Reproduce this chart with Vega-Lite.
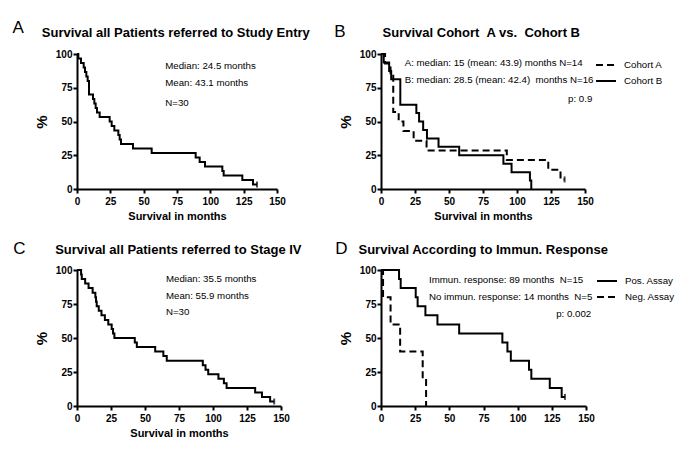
{
"$schema": "https://vega.github.io/schema/vega-lite/v6.json",
"background": "white",
"padding": {"left": 12, "top": 19, "right": 5, "bottom": 5},
"data": {"values": [
{"p":"A","g":"all","t":0,"s":100},{"p":"A","g":"all","t":1,"s":96.7},{"p":"A","g":"all","t":3,"s":93.3},{"p":"A","g":"all","t":5,"s":90},{"p":"A","g":"all","t":6,"s":86.7},{"p":"A","g":"all","t":7,"s":83.3},{"p":"A","g":"all","t":8,"s":80},{"p":"A","g":"all","t":9,"s":70},{"p":"A","g":"all","t":12,"s":66.7},{"p":"A","g":"all","t":13,"s":63.3},{"p":"A","g":"all","t":14,"s":60},{"p":"A","g":"all","t":15,"s":56.7},{"p":"A","g":"all","t":17,"s":53.3},{"p":"A","g":"all","t":24.5,"s":50},{"p":"A","g":"all","t":26,"s":46.7},{"p":"A","g":"all","t":28,"s":43.3},{"p":"A","g":"all","t":31,"s":40},{"p":"A","g":"all","t":32,"s":36.7},{"p":"A","g":"all","t":33,"s":33.3},{"p":"A","g":"all","t":42,"s":30},{"p":"A","g":"all","t":56,"s":26.7},{"p":"A","g":"all","t":89,"s":23.3},{"p":"A","g":"all","t":92,"s":20},{"p":"A","g":"all","t":96,"s":16.7},{"p":"A","g":"all","t":109,"s":13.3},{"p":"A","g":"all","t":110,"s":10},{"p":"A","g":"all","t":124,"s":6.7},{"p":"A","g":"all","t":132,"s":3.3},{"p":"A","g":"all","t":135,"s":3.3,"c":1},
{"p":"B","g":"Cohort A","t":0,"s":100},{"p":"B","g":"Cohort A","t":3,"s":92.9},{"p":"B","g":"Cohort A","t":7,"s":85.7},{"p":"B","g":"Cohort A","t":9,"s":57.1},{"p":"B","g":"Cohort A","t":13,"s":50},{"p":"B","g":"Cohort A","t":16.5,"s":42.9},{"p":"B","g":"Cohort A","t":24,"s":35.7},{"p":"B","g":"Cohort A","t":33.5,"s":28.6},{"p":"B","g":"Cohort A","t":92.5,"s":21.4},{"p":"B","g":"Cohort A","t":123,"s":14.3},{"p":"B","g":"Cohort A","t":132,"s":7.1},{"p":"B","g":"Cohort A","t":135,"s":7.1,"c":1},
{"p":"B","g":"Cohort B","t":0,"s":100},{"p":"B","g":"Cohort B","t":2,"s":93.75},{"p":"B","g":"Cohort B","t":6,"s":87.5},{"p":"B","g":"Cohort B","t":7.5,"s":81.25},{"p":"B","g":"Cohort B","t":14.2,"s":62.5},{"p":"B","g":"Cohort B","t":26,"s":56.25},{"p":"B","g":"Cohort B","t":28,"s":50},{"p":"B","g":"Cohort B","t":31,"s":43.75},{"p":"B","g":"Cohort B","t":33.8,"s":37.5},{"p":"B","g":"Cohort B","t":42.3,"s":31.25},{"p":"B","g":"Cohort B","t":57.5,"s":25},{"p":"B","g":"Cohort B","t":90,"s":18.75},{"p":"B","g":"Cohort B","t":96,"s":12.5},{"p":"B","g":"Cohort B","t":109.5,"s":6.25},{"p":"B","g":"Cohort B","t":110.5,"s":0},
{"p":"C","g":"all","t":0,"s":100},{"p":"C","g":"all","t":3,"s":96.7},{"p":"C","g":"all","t":3.5,"s":93.3},{"p":"C","g":"all","t":6,"s":90},{"p":"C","g":"all","t":8.5,"s":86.7},{"p":"C","g":"all","t":11.5,"s":83.3},{"p":"C","g":"all","t":13.5,"s":80},{"p":"C","g":"all","t":14,"s":76.7},{"p":"C","g":"all","t":14.5,"s":73.3},{"p":"C","g":"all","t":16,"s":70},{"p":"C","g":"all","t":18,"s":66.7},{"p":"C","g":"all","t":20.5,"s":63.3},{"p":"C","g":"all","t":23,"s":60},{"p":"C","g":"all","t":25.5,"s":56.7},{"p":"C","g":"all","t":26.5,"s":53.3},{"p":"C","g":"all","t":27.5,"s":50},{"p":"C","g":"all","t":42.5,"s":46.7},{"p":"C","g":"all","t":44,"s":43.3},{"p":"C","g":"all","t":57.5,"s":40},{"p":"C","g":"all","t":63.5,"s":36.7},{"p":"C","g":"all","t":66,"s":33.3},{"p":"C","g":"all","t":92.5,"s":30},{"p":"C","g":"all","t":94.5,"s":26.7},{"p":"C","g":"all","t":96.5,"s":23.3},{"p":"C","g":"all","t":104,"s":20},{"p":"C","g":"all","t":108,"s":16.7},{"p":"C","g":"all","t":110,"s":13.3},{"p":"C","g":"all","t":131,"s":10},{"p":"C","g":"all","t":136,"s":6.7},{"p":"C","g":"all","t":142,"s":3.3},{"p":"C","g":"all","t":145,"s":3.3,"c":1},
{"p":"D","g":"Pos. Assay","t":0,"s":100},{"p":"D","g":"Pos. Assay","t":13.2,"s":93.3},{"p":"D","g":"Pos. Assay","t":14.4,"s":86.7},{"p":"D","g":"Pos. Assay","t":25.4,"s":80},{"p":"D","g":"Pos. Assay","t":26.8,"s":73.3},{"p":"D","g":"Pos. Assay","t":32.5,"s":66.7},{"p":"D","g":"Pos. Assay","t":41.3,"s":60},{"p":"D","g":"Pos. Assay","t":57.2,"s":53.3},{"p":"D","g":"Pos. Assay","t":88.8,"s":46.7},{"p":"D","g":"Pos. Assay","t":92.5,"s":40},{"p":"D","g":"Pos. Assay","t":95,"s":33.3},{"p":"D","g":"Pos. Assay","t":108.3,"s":26.7},{"p":"D","g":"Pos. Assay","t":110,"s":20},{"p":"D","g":"Pos. Assay","t":123.5,"s":13.3},{"p":"D","g":"Pos. Assay","t":132.2,"s":6.7},{"p":"D","g":"Pos. Assay","t":134.6,"s":6.7,"c":1},
{"p":"D","g":"Neg. Assay","t":0,"s":100},{"p":"D","g":"Neg. Assay","t":1.5,"s":80},{"p":"D","g":"Neg. Assay","t":7,"s":60},{"p":"D","g":"Neg. Assay","t":14,"s":40},{"p":"D","g":"Neg. Assay","t":30.5,"s":20},{"p":"D","g":"Neg. Assay","t":33,"s":0}
]},
"columns": 2,
"bounds": "flush",
"spacing": {"row": 81, "column": 100},
"resolve": {"scale": {"x": "independent", "y": "independent", "strokeDash": "independent"}, "legend": {"strokeDash": "independent"}},
"concat": [
{"width": 200, "height": 135, "layer": [
 {"transform": [{"filter": "datum.p=='A'"}], "mark": {"type": "line", "interpolate": "step-after", "color": "black", "strokeWidth": 2},
  "encoding": {"x": {"field": "t", "type": "quantitative", "scale": {"domain": [0,150], "nice": false}, "axis": {"values": [0,25,50,75,100,125,150], "title": "Survival in months"}},
   "y": {"field": "s", "type": "quantitative", "scale": {"domain": [0,100], "nice": false}, "axis": {"values": [0,25,50,75,100], "title": "%"}}}},
 {"transform": [{"filter": "datum.p=='A' && datum.c==1"}], "mark": {"type": "tick", "orient": "vertical", "color": "black", "size": 6, "thickness": 2},
  "encoding": {"x": {"field": "t", "type": "quantitative", "scale": {"domain": [0,150], "nice": false}, "axis": {"values": [0,25,50,75,100,125,150], "title": "Survival in months"}}, "y": {"field": "s", "type": "quantitative", "scale": {"domain": [0,100], "nice": false}, "axis": {"values": [0,25,50,75,100], "title": "%"}}}},
 {"data": {"values": [{}]}, "mark": {"type": "text", "text": "A", "fontSize": 17, "align": "left", "baseline": "alphabetic"},
  "encoding": {"x": {"datum": -48.3, "type": "quantitative", "scale": {"domain": [0,150], "nice": false}, "axis": {"values": [0,25,50,75,100,125,150], "title": "Survival in months"}}, "y": {"datum": 115.3, "type": "quantitative", "scale": {"domain": [0,100], "nice": false}, "axis": {"values": [0,25,50,75,100], "title": "%"}}}},
 {"data": {"values": [{}]}, "mark": {"type": "text", "text": "Survival all Patients referred to Study Entry", "fontSize": 13, "fontWeight": "bold", "align": "center", "baseline": "alphabetic"},
  "encoding": {"x": {"datum": 74.1, "type": "quantitative", "scale": {"domain": [0,150], "nice": false}, "axis": {"values": [0,25,50,75,100,125,150], "title": "Survival in months"}}, "y": {"datum": 112.8, "type": "quantitative", "scale": {"domain": [0,100], "nice": false}, "axis": {"values": [0,25,50,75,100], "title": "%"}}}},
 {"data": {"values": [{}]}, "mark": {"type": "text", "text": "Median: 24.5 months", "fontSize": 9.7, "align": "left", "baseline": "middle"},
  "encoding": {"x": {"datum": 66.2, "type": "quantitative", "scale": {"domain": [0,150], "nice": false}, "axis": {"values": [0,25,50,75,100,125,150], "title": "Survival in months"}}, "y": {"datum": 91.3, "type": "quantitative", "scale": {"domain": [0,100], "nice": false}, "axis": {"values": [0,25,50,75,100], "title": "%"}}}},
 {"data": {"values": [{}]}, "mark": {"type": "text", "text": "Mean: 43.1 months", "fontSize": 9.7, "align": "left", "baseline": "middle"},
  "encoding": {"x": {"datum": 66.2, "type": "quantitative", "scale": {"domain": [0,150], "nice": false}, "axis": {"values": [0,25,50,75,100,125,150], "title": "Survival in months"}}, "y": {"datum": 78.7, "type": "quantitative", "scale": {"domain": [0,100], "nice": false}, "axis": {"values": [0,25,50,75,100], "title": "%"}}}},
 {"data": {"values": [{}]}, "mark": {"type": "text", "text": "N=30", "fontSize": 9.7, "align": "left", "baseline": "middle"},
  "encoding": {"x": {"datum": 66.2, "type": "quantitative", "scale": {"domain": [0,150], "nice": false}, "axis": {"values": [0,25,50,75,100,125,150], "title": "Survival in months"}}, "y": {"datum": 63.5, "type": "quantitative", "scale": {"domain": [0,100], "nice": false}, "axis": {"values": [0,25,50,75,100], "title": "%"}}}}
]},
{"width": 204, "height": 135, "layer": [
 {"transform": [{"filter": "datum.p=='B'"}], "mark": {"type": "line", "interpolate": "step-after", "color": "black", "strokeWidth": 2},
  "encoding": {"x": {"field": "t", "type": "quantitative", "scale": {"domain": [0,150], "nice": false}, "axis": {"values": [0,25,50,75,100,125,150], "title": "Survival in months"}},
   "y": {"field": "s", "type": "quantitative", "scale": {"domain": [0,100], "nice": false}, "axis": {"values": [0,25,50,75,100], "title": "%"}},
   "strokeDash": {"field": "g", "type": "nominal", "scale": {"domain": ["Cohort A","Cohort B"], "range": [[7,4],[1,0]]}, "legend": {"title": null}}}},
 {"transform": [{"filter": "datum.p=='B' && datum.c==1"}], "mark": {"type": "tick", "orient": "vertical", "color": "black", "size": 6, "thickness": 2},
  "encoding": {"x": {"field": "t", "type": "quantitative", "scale": {"domain": [0,150], "nice": false}, "axis": {"values": [0,25,50,75,100,125,150], "title": "Survival in months"}}, "y": {"field": "s", "type": "quantitative", "scale": {"domain": [0,100], "nice": false}, "axis": {"values": [0,25,50,75,100], "title": "%"}}}},
 {"data": {"values": [{}]}, "mark": {"type": "text", "text": "B", "fontSize": 17, "align": "left", "baseline": "alphabetic"},
  "encoding": {"x": {"datum": -34.3, "type": "quantitative", "scale": {"domain": [0,150], "nice": false}, "axis": {"values": [0,25,50,75,100,125,150], "title": "Survival in months"}}, "y": {"datum": 112.6, "type": "quantitative", "scale": {"domain": [0,100], "nice": false}, "axis": {"values": [0,25,50,75,100], "title": "%"}}}},
 {"data": {"values": [{}]}, "mark": {"type": "text", "text": "Survival Cohort \u00a0A vs. \u00a0Cohort B", "fontSize": 13, "fontWeight": "bold", "align": "center", "baseline": "alphabetic"},
  "encoding": {"x": {"datum": 73.75, "type": "quantitative", "scale": {"domain": [0,150], "nice": false}, "axis": {"values": [0,25,50,75,100,125,150], "title": "Survival in months"}}, "y": {"datum": 112.4, "type": "quantitative", "scale": {"domain": [0,100], "nice": false}, "axis": {"values": [0,25,50,75,100], "title": "%"}}}},
 {"data": {"values": [{}]}, "mark": {"type": "text", "text": "A: median: 15 (mean: 43.9) months N=14", "fontSize": 9.7, "align": "left", "baseline": "middle"},
  "encoding": {"x": {"datum": 17.4, "type": "quantitative", "scale": {"domain": [0,150], "nice": false}, "axis": {"values": [0,25,50,75,100,125,150], "title": "Survival in months"}}, "y": {"datum": 93.1, "type": "quantitative", "scale": {"domain": [0,100], "nice": false}, "axis": {"values": [0,25,50,75,100], "title": "%"}}}},
 {"data": {"values": [{}]}, "mark": {"type": "text", "text": "B: median: 28.5 (mean: 42.4) \u00a0months N=16", "fontSize": 9.7, "align": "left", "baseline": "middle"},
  "encoding": {"x": {"datum": 17.4, "type": "quantitative", "scale": {"domain": [0,150], "nice": false}, "axis": {"values": [0,25,50,75,100,125,150], "title": "Survival in months"}}, "y": {"datum": 80.7, "type": "quantitative", "scale": {"domain": [0,100], "nice": false}, "axis": {"values": [0,25,50,75,100], "title": "%"}}}},
 {"data": {"values": [{}]}, "mark": {"type": "text", "text": "p: 0.9", "fontSize": 9.7, "align": "right", "baseline": "middle"},
  "encoding": {"x": {"datum": 155.4, "type": "quantitative", "scale": {"domain": [0,150], "nice": false}, "axis": {"values": [0,25,50,75,100,125,150], "title": "Survival in months"}}, "y": {"datum": 66.7, "type": "quantitative", "scale": {"domain": [0,100], "nice": false}, "axis": {"values": [0,25,50,75,100], "title": "%"}}}}
]},
{"width": 204, "height": 136, "layer": [
 {"transform": [{"filter": "datum.p=='C'"}], "mark": {"type": "line", "interpolate": "step-after", "color": "black", "strokeWidth": 2},
  "encoding": {"x": {"field": "t", "type": "quantitative", "scale": {"domain": [0,150], "nice": false}, "axis": {"values": [0,25,50,75,100,125,150], "title": "Survival in months"}},
   "y": {"field": "s", "type": "quantitative", "scale": {"domain": [0,100], "nice": false}, "axis": {"values": [0,25,50,75,100], "title": "%"}}}},
 {"transform": [{"filter": "datum.p=='C' && datum.c==1"}], "mark": {"type": "tick", "orient": "vertical", "color": "black", "size": 6, "thickness": 2},
  "encoding": {"x": {"field": "t", "type": "quantitative", "scale": {"domain": [0,150], "nice": false}, "axis": {"values": [0,25,50,75,100,125,150], "title": "Survival in months"}}, "y": {"field": "s", "type": "quantitative", "scale": {"domain": [0,100], "nice": false}, "axis": {"values": [0,25,50,75,100], "title": "%"}}}},
 {"data": {"values": [{}]}, "mark": {"type": "text", "text": "C", "fontSize": 17, "align": "left", "baseline": "alphabetic"},
  "encoding": {"x": {"datum": -46.8, "type": "quantitative", "scale": {"domain": [0,150], "nice": false}, "axis": {"values": [0,25,50,75,100,125,150], "title": "Survival in months"}}, "y": {"datum": 112, "type": "quantitative", "scale": {"domain": [0,100], "nice": false}, "axis": {"values": [0,25,50,75,100], "title": "%"}}}},
 {"data": {"values": [{}]}, "mark": {"type": "text", "text": "Survival all Patients referred to Stage IV", "fontSize": 13, "fontWeight": "bold", "align": "center", "baseline": "alphabetic"},
  "encoding": {"x": {"datum": 74.5, "type": "quantitative", "scale": {"domain": [0,150], "nice": false}, "axis": {"values": [0,25,50,75,100,125,150], "title": "Survival in months"}}, "y": {"datum": 111.5, "type": "quantitative", "scale": {"domain": [0,100], "nice": false}, "axis": {"values": [0,25,50,75,100], "title": "%"}}}},
 {"data": {"values": [{}]}, "mark": {"type": "text", "text": "Median: 35.5 months", "fontSize": 9.7, "align": "left", "baseline": "middle"},
  "encoding": {"x": {"datum": 65.4, "type": "quantitative", "scale": {"domain": [0,150], "nice": false}, "axis": {"values": [0,25,50,75,100,125,150], "title": "Survival in months"}}, "y": {"datum": 93.2, "type": "quantitative", "scale": {"domain": [0,100], "nice": false}, "axis": {"values": [0,25,50,75,100], "title": "%"}}}},
 {"data": {"values": [{}]}, "mark": {"type": "text", "text": "Mean: 55.9 months", "fontSize": 9.7, "align": "left", "baseline": "middle"},
  "encoding": {"x": {"datum": 65.4, "type": "quantitative", "scale": {"domain": [0,150], "nice": false}, "axis": {"values": [0,25,50,75,100,125,150], "title": "Survival in months"}}, "y": {"datum": 80.9, "type": "quantitative", "scale": {"domain": [0,100], "nice": false}, "axis": {"values": [0,25,50,75,100], "title": "%"}}}},
 {"data": {"values": [{}]}, "mark": {"type": "text", "text": "N=30", "fontSize": 9.7, "align": "left", "baseline": "middle"},
  "encoding": {"x": {"datum": 65.4, "type": "quantitative", "scale": {"domain": [0,150], "nice": false}, "axis": {"values": [0,25,50,75,100,125,150], "title": "Survival in months"}}, "y": {"datum": 69.1, "type": "quantitative", "scale": {"domain": [0,100], "nice": false}, "axis": {"values": [0,25,50,75,100], "title": "%"}}}}
]},
{"width": 205, "height": 136, "layer": [
 {"transform": [{"filter": "datum.p=='D'"}], "mark": {"type": "line", "interpolate": "step-after", "color": "black", "strokeWidth": 2},
  "encoding": {"x": {"field": "t", "type": "quantitative", "scale": {"domain": [0,150], "nice": false}, "axis": {"values": [0,25,50,75,100,125,150], "title": null}},
   "y": {"field": "s", "type": "quantitative", "scale": {"domain": [0,100], "nice": false}, "axis": {"values": [0,25,50,75,100], "title": "%"}},
   "strokeDash": {"field": "g", "type": "nominal", "scale": {"domain": ["Pos. Assay","Neg. Assay"], "range": [[1,0],[7,4]]}, "legend": {"title": null}}}},
 {"transform": [{"filter": "datum.p=='D' && datum.c==1"}], "mark": {"type": "tick", "orient": "vertical", "color": "black", "size": 6, "thickness": 2},
  "encoding": {"x": {"field": "t", "type": "quantitative", "scale": {"domain": [0,150], "nice": false}, "axis": {"values": [0,25,50,75,100,125,150], "title": null}}, "y": {"field": "s", "type": "quantitative", "scale": {"domain": [0,100], "nice": false}, "axis": {"values": [0,25,50,75,100], "title": "%"}}}},
 {"data": {"values": [{}]}, "mark": {"type": "text", "text": "D", "fontSize": 17, "align": "left", "baseline": "alphabetic"},
  "encoding": {"x": {"datum": -33.4, "type": "quantitative", "scale": {"domain": [0,150], "nice": false}, "axis": {"values": [0,25,50,75,100,125,150], "title": null}}, "y": {"datum": 112, "type": "quantitative", "scale": {"domain": [0,100], "nice": false}, "axis": {"values": [0,25,50,75,100], "title": "%"}}}},
 {"data": {"values": [{}]}, "mark": {"type": "text", "text": "Survival According to Immun. Response", "fontSize": 13, "fontWeight": "bold", "align": "center", "baseline": "alphabetic"},
  "encoding": {"x": {"datum": 74.8, "type": "quantitative", "scale": {"domain": [0,150], "nice": false}, "axis": {"values": [0,25,50,75,100,125,150], "title": null}}, "y": {"datum": 111.5, "type": "quantitative", "scale": {"domain": [0,100], "nice": false}, "axis": {"values": [0,25,50,75,100], "title": "%"}}}},
 {"data": {"values": [{}]}, "mark": {"type": "text", "text": "Immun. response: 89 months \u00a0N=15", "fontSize": 9.7, "align": "left", "baseline": "middle"},
  "encoding": {"x": {"datum": 35.1, "type": "quantitative", "scale": {"domain": [0,150], "nice": false}, "axis": {"values": [0,25,50,75,100,125,150], "title": null}}, "y": {"datum": 92.9, "type": "quantitative", "scale": {"domain": [0,100], "nice": false}, "axis": {"values": [0,25,50,75,100], "title": "%"}}}},
 {"data": {"values": [{}]}, "mark": {"type": "text", "text": "No immun. response: 14 months \u00a0N=5", "fontSize": 9.7, "align": "left", "baseline": "middle"},
  "encoding": {"x": {"datum": 35.1, "type": "quantitative", "scale": {"domain": [0,150], "nice": false}, "axis": {"values": [0,25,50,75,100,125,150], "title": null}}, "y": {"datum": 80.1, "type": "quantitative", "scale": {"domain": [0,100], "nice": false}, "axis": {"values": [0,25,50,75,100], "title": "%"}}}},
 {"data": {"values": [{}]}, "mark": {"type": "text", "text": "p: 0.002", "fontSize": 9.7, "align": "right", "baseline": "middle"},
  "encoding": {"x": {"datum": 153.8, "type": "quantitative", "scale": {"domain": [0,150], "nice": false}, "axis": {"values": [0,25,50,75,100,125,150], "title": null}}, "y": {"datum": 67.9, "type": "quantitative", "scale": {"domain": [0,100], "nice": false}, "axis": {"values": [0,25,50,75,100], "title": "%"}}}}
]}
],
"config": {
 "view": {"stroke": null},
 "font": "Liberation Sans",
 "text": {"color": "black", "font": "Liberation Sans"},
 "axis": {"domainColor": "black", "domainWidth": 2, "tickColor": "black", "tickWidth": 2, "tickSize": 4, "labelFont": "Liberation Sans", "labelFontWeight": "bold", "labelFontSize": 10, "labelColor": "black", "titleFont": "Liberation Sans", "titleFontWeight": "bold", "titleColor": "black", "grid": false, "labelFlush": false, "labelOverlap": false},
 "axisX": {"titleFontSize": 11, "titlePadding": 4, "labelPadding": 3},
 "axisY": {"titleFontSize": 15, "titlePadding": 6, "labelPadding": 1},
 "legend": {"orient": "right", "offset": 10, "padding": 0, "symbolType": "stroke", "symbolSize": 400, "symbolStrokeWidth": 2, "symbolStrokeColor": "black", "labelFont": "Liberation Sans", "labelFontSize": 9.7, "labelColor": "black", "labelOffset": 7, "rowPadding": -4}
}
}
